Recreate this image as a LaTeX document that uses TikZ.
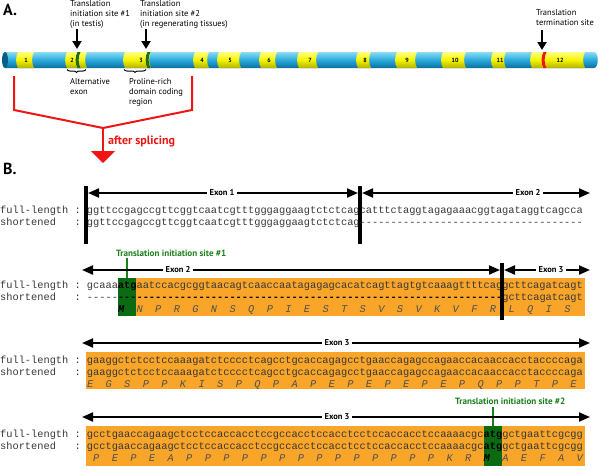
\documentclass[tikz,border=0pt]{standalone}
\usepackage{fontspec}
\setsansfont{PT Sans}
\setmonofont{Liberation Mono}
\usetikzlibrary{arrows.meta,decorations.pathreplacing}
\definecolor{tubeT}{HTML}{8ADCF6}
\definecolor{tubeM}{HTML}{2AA9DC}
\definecolor{tubeB}{HTML}{0A6E9E}
\definecolor{exT}{HTML}{FFFF80}
\definecolor{exM}{HTML}{F4F400}
\definecolor{exB}{HTML}{B0B000}
\definecolor{redA}{HTML}{F01414}
\definecolor{orangeB}{HTML}{F9A52A}
\definecolor{greenBox}{HTML}{0B6B12}
\definecolor{greenTxt}{HTML}{1B7F1B}
\definecolor{bandG}{HTML}{1E6E1E}
\definecolor{seqgray}{HTML}{383838}
\definecolor{aagray}{HTML}{505050}
\newcommand\seqf{\ttfamily\fontsize{10.33}{12}\selectfont}
\newcommand\boldM{{\bfseries\color{black}M}}
\newcommand\boldatg{{\bfseries\color{black}atg}}
\newcommand\dashrun{-----{\bfseries\color{black}--------------------------------------------------------------}}
\begin{document}
\begin{tikzpicture}[x=1pt,y=-1pt,
  lbl/.style={font=\sffamily\fontsize{8.5}{10}\selectfont, inner sep=0pt, align=left, anchor=north west},
  exnum/.style={font=\sffamily\bfseries\fontsize{6}{7}\selectfont, inner sep=0pt},
  blkarr/.style={line width=2pt, -{Triangle[length=8pt,width=9pt]}},
  seq/.style={anchor=base west, inner sep=0pt, font=\seqf, text=seqgray},
  aa/.style={anchor=base west, inner sep=0pt, font=\seqf\itshape, text=aagray},
  exarr/.style={line width=2pt, {Triangle[length=11pt,width=9pt]}-{Triangle[length=11pt,width=9pt]}},
  exlbl/.style={fill=white, inner xsep=3pt, inner ysep=1pt, font=\sffamily\bfseries\fontsize{8.5}{10}\selectfont},
  bar/.style={line width=3.5pt},
  grn/.style={draw=greenTxt, line width=1.5pt},
  grnlbl/.style={text=greenTxt, font=\sffamily\bfseries\fontsize{9.1}{11}\selectfont, inner sep=0pt},
  panel/.style={font=\sffamily\bfseries\fontsize{16}{18}\selectfont, inner sep=0pt, anchor=north west},
]
\useasboundingbox (0,0) rectangle (600,469);
% ---------------- A ----------------
\node[panel] (pA) at (3,4) {A.};
% tube
\shade[top color=tubeT, bottom color=tubeB, middle color=tubeM]
  (5,52) -- (594,52) .. controls (599,52) and (599,68) .. (594,68) -- (5,68) -- cycle;
\fill[tubeB!85!black] (5,60) ellipse [x radius=3, y radius=8];
% exons
\foreach \a/\b/\c/\n in {18/34/26/1, 67/87/72/2, 125/151/141/3, 195/209/202/4, 219/241/230/5,
  261/277/269/6, 299/318/310/7, 358/371/365/8, 397/417/407/9, 443/466/455/10,
  493/506/500/11, 532/585/560/12}{
  \shade[top color=exT, bottom color=exB, middle color=exM]
    (\a,52) .. controls (\a-2.5,56) and (\a-2.5,64) .. (\a,68) -- (\b,68)
    .. controls (\b-2.5,64) and (\b-2.5,56) .. (\b,52) -- cycle;
  \node[exnum] (ex\n) at (\c,60.5) {\n};
}
\foreach \x/\col in {79/bandG, 149/bandG, 545/redA}{
  \fill[\col] (\x-1.5,52) .. controls (\x-4,56) and (\x-4,64) .. (\x-1.5,68) -- (\x+1.5,68)
    .. controls (\x-1,64) and (\x-1,56) .. (\x+1.5,52) -- cycle;
}
% top labels and arrows
\node[lbl] (t1) at (70,0.5) {Translation\\initiation site \#1\\(in testis)};
\node[lbl] (t2) at (140,0.5) {Translation\\initiation site \#2\\(in regenerating tissues)};
\node[lbl] (t3) at (536,9.5) {Translation\\termination site};
\coordinate (a1s) at (77,29); \coordinate (a1e) at (77,49);
\coordinate (a2s) at (146,29); \coordinate (a2e) at (146,49);
\coordinate (a3s) at (542,30); \coordinate (a3e) at (542,50);
\draw[blkarr] (a1s) -- (a1e);
\draw[blkarr] (a2s) -- (a2e);
\draw[blkarr] (a3s) -- (a3e);
% braces
\draw[line width=1pt, decorate, decoration={brace, amplitude=3pt}] (86,69.5) -- (67,69.5);
\draw[line width=1pt, decorate, decoration={brace, amplitude=3pt}] (146,69.5) -- (124,69.5);
\node[lbl] (alt) at (70,78) {Alternative\\exon};
\node[lbl] (pro) at (129,78) {Proline-rich\\domain coding\\region};
% red splicing bracket
\coordinate (rl) at (14,76); \coordinate (rr) at (192,76); \coordinate (rm) at (103,128);
\coordinate (rh) at (103,163);
\draw[redA, line width=2pt] (rl) -- (14,110) -- (rm) -- (192,110) -- (rr);
\draw[redA, line width=2pt, -{Triangle[length=12pt,width=24pt]}] (rm) -- (rh);
\node[text=redA, font=\sffamily\bfseries\fontsize{12}{14}\selectfont, anchor=west, inner sep=0pt]
  (spl) at (108,142) {after splicing};
% ---------------- B ----------------
\node[panel] (pB) at (3,163) {B.};
% backgrounds
\fill[orangeB] (136.4,278) rectangle (585,316);
\fill[greenBox] (117.8,278) rectangle (136.4,316);
\fill[orangeB] (86,352) rectangle (585,389);
\fill[orangeB] (86,426) rectangle (585,466);
\fill[greenBox] (483.6,426) rectangle (502.2,466);
% row 1
\coordinate (b1t) at (86,186); \coordinate (b1b) at (86,244);
\coordinate (b2t) at (360,186); \coordinate (b2b) at (360,244);
\coordinate (r1a) at (88,193); \coordinate (r1b) at (358,193);
\coordinate (r1c) at (362,193); \coordinate (r1d) at (590,193);
\draw[exarr] (r1a) -- (r1b);
\draw[exarr] (r1c) -- (r1d);
\node[exlbl] (x11) at (222,193) {Exon 1};
\node[exlbl] (x12) at (528,193) {Exon 2};
\node[seq] (s1f) at (0,213.5) {full-length : ggttccgagccgttcggtcaatcgtttgggaggaagtctctcagcatttctaggtagagaaacggtagataggtcagcca};
\node[seq] (s1s) at (0,225.5) {shortened~~~: ggttccgagccgttcggtcaatcgtttgggaggaagtctctcag------------------------------------};
\draw[bar] (b1t) -- (b1b);
\draw[bar] (b2t) -- (b2b);
% row 2
\node[grnlbl, anchor=base west] (g1) at (116,256) {Translation initiation site \#1};
\coordinate (g1a) at (127,258); \coordinate (g1b) at (127,278);
\draw[grn] (g1a) -- (g1b);
\coordinate (r2a) at (82,270); \coordinate (r2b) at (500,270);
\coordinate (r2c) at (504,270); \coordinate (r2d) at (590,270);
\draw[exarr] (r2a) -- (r2b);
\draw[exarr] (r2c) -- (r2d);
\node[exlbl] (x22) at (178,270) {Exon 2};
\node[exlbl] (x23) at (551,270) {Exon 3};
\node[seq] (s2f) at (0,288) {full-length : gcaaa\boldatg aatccacgcggtaacagtcaaccaatagagagcacatcagttagtgtcaaagttttcaggcttcagatcagt};
\node[seq] (s2s) at (0,300.5) {shortened~~~: \dashrun gcttcagatcagt};
\node[aa] (s2a) at (117.8,312.5) {\boldM~~N~~P~~R~~G~~N~~S~~Q~~P~~I~~E~~S~~T~~S~~V~~S~~V~~K~~V~~F~~R~~L~~Q~~I~~S};
\coordinate (b3t) at (502,263); \coordinate (b3b) at (502,320);
\draw[bar] (b3t) -- (b3b);
% row 3
\coordinate (r3a) at (82,343); \coordinate (r3b) at (590,343);
\draw[exarr] (r3a) -- (r3b);
\node[exlbl] (x33) at (337,343) {Exon 3};
\node[seq] (s3f) at (0,363) {full-length : gaaggctctcctccaaagatctcccctcagcctgcaccagagcctgaaccagagccagaaccacaaccacctaccccaga};
\node[seq] (s3s) at (0,375.5) {shortened~~~: gaaggctctcctccaaagatctcccctcagcctgcaccagagcctgaaccagagccagaaccacaaccacctaccccaga};
\node[aa] (s3a) at (86.8,387.5) {E~~G~~S~~P~~P~~K~~I~~S~~P~~Q~~P~~A~~P~~E~~P~~E~~P~~E~~P~~E~~P~~Q~~P~~P~~T~~P~~E};
% row 4
\node[grnlbl, anchor=base west] (g2) at (455,404) {Translation initiation site \#2};
\coordinate (g2a) at (492.9,407); \coordinate (g2b) at (492.9,426);
\draw[grn] (g2a) -- (g2b);
\coordinate (r4a) at (82,417); \coordinate (r4b) at (590,417);
\draw[exarr] (r4a) -- (r4b);
\node[exlbl] (x43) at (337,417) {Exon 3};
\node[seq] (s4f) at (0,437) {full-length : gcctgaaccagaagctcctccaccacctccgccacctccacctcctccaccacctccaaaacgc\boldatg gctgaattcgcgg};
\node[seq] (s4s) at (0,449.5) {shortened~~~: gcctgaaccagaagctcctccaccacctccgccacctccacctcctccaccacctccaaaacgc\boldatg gctgaattcgcgg};
\node[aa] (s4a) at (93,461.5) {P~~E~~P~~E~~A~~P~~P~~P~~P~~P~~P~~P~~P~~P~~P~~P~~P~~P~~P~~K~~R~~\boldM~~A~~E~~F~~A~~V};
\end{tikzpicture}
\end{document}
